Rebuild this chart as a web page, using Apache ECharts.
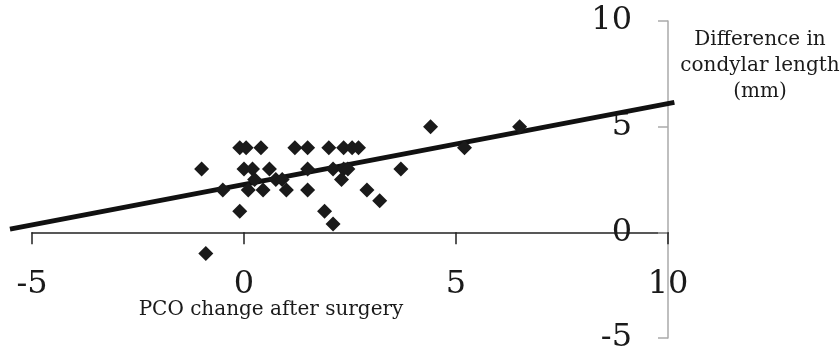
<!DOCTYPE html>
<html><head><meta charset="utf-8">
<script src="https://cdn.jsdelivr.net/npm/echarts@6/dist/echarts.min.js"></script>
<style>html,body{margin:0;padding:0;background:#fff}#c{width:840px;height:358px}</style>
</head><body><div id="c"></div>
<script>
const xTicks = [-5, 0, 5, 10];
const yTicks = [-5, 0, 5, 10];
const xTitle = 'PCO change after surgery';
const yTitle = 'Difference in\ncondylar length\n(mm)';
const pcoChange = [-1.0,-0.9,-0.5,-0.1,-0.1,0.05,0.4,0.0,0.2,0.1,0.25,0.45,0.6,0.75,0.9,1.0,1.2,1.5,1.5,1.5,1.9,2.1,2.0,2.1,2.35,2.55,2.7,2.35,2.45,2.3,2.9,3.2,3.7,4.4,5.2,6.5];
const condylarDiff = [3.0,-1.0,2.0,1.0,4.0,4.0,4.0,3.0,3.0,2.0,2.5,2.0,3.0,2.5,2.5,2.0,4.0,4.0,3.0,2.0,1.0,0.4,4.0,3.0,4.0,4.0,4.0,3.0,3.0,2.5,2.0,1.5,3.0,5.0,4.0,5.0];
const trendX = [-5.52, 10.15];
const trendY = [0.15, 6.15];

const font = 'DejaVu Serif';
const gridLeft = 32, gridTop = 21, gridW = 636, gridH = 317;
const xMin = xTicks[0], xMax = xTicks[xTicks.length-1];
const pxPerX = gridW / (xMax - xMin);
const yZeroOffset = -(gridH * (0 - yTicks[0]) / (yTicks[yTicks.length-1] - yTicks[0]));
const chart = echarts.init(document.getElementById('c'));
chart.setOption({
  animation: false,
  grid: [
    {left: gridLeft, top: gridTop, width: gridW, height: gridH, containLabel: false, outerBoundsMode: 'none'},
    {left: gridLeft + (trendX[0] - xMin) * pxPerX, top: gridTop, width: (trendX[1] - trendX[0]) * pxPerX, height: gridH, containLabel: false, outerBoundsMode: 'none'}
  ],
  xAxis: [{
    type: 'value', gridIndex: 0, position: 'bottom', offset: yZeroOffset,
    min: xMin, max: xMax, interval: 5,
    splitLine: {show: false},
    axisLine: {onZero: false, lineStyle: {color: '#222', width: 1.5}},
    axisTick: {show: true, length: 12, lineStyle: {color: '#222', width: 1.5}},
    axisLabel: {margin: 36, fontFamily: font, fontSize: 32, color: '#1a1a1a', hideOverlap: false}
  }, {
    type: 'value', gridIndex: 1, min: trendX[0], max: trendX[1], show: false, splitLine: {show: false}
  }],
  yAxis: [{
    type: 'value', gridIndex: 0, position: 'right', min: yTicks[0], max: yTicks[yTicks.length-1], interval: 5,
    splitLine: {show: false},
    axisLine: {show: true, onZero: false, lineStyle: {color: '#aaa', width: 1.5}},
    axisTick: {show: true, inside: true, length: 10, lineStyle: {color: '#aaa', width: 1.5}},
    axisLabel: {inside: true, margin: 36, fontFamily: font, fontSize: 32, color: '#1a1a1a', hideOverlap: false}
  }, {
    type: 'value', gridIndex: 1, min: yTicks[0], max: yTicks[yTicks.length-1], show: false, splitLine: {show: false}
  }],
  graphic: [
    {type: 'text', style: {text: xTitle, x: 271, y: 310, align: 'center', verticalAlign: 'middle', font: '20px "DejaVu Serif"', fill: '#1a1a1a'}},
    {type: 'text', style: {text: yTitle, x: 760, y: 66, align: 'center', verticalAlign: 'middle', font: '20px "DejaVu Serif"', lineHeight: 26, fill: '#1a1a1a'}}
  ],
  series: [
    {type: 'line', xAxisIndex: 1, yAxisIndex: 1, data: trendX.map((x, i) => [x, trendY[i]]), showSymbol: false, clip: false,
     lineStyle: {color: '#111', width: 5}, z: 3},
    {type: 'scatter', xAxisIndex: 0, yAxisIndex: 0, data: pcoChange.map((x, i) => [x, condylarDiff[i]]), symbol: 'diamond', symbolSize: 15,
     itemStyle: {color: '#1a1a1a', opacity: 1}, z: 4}
  ]
});
</script></body></html>
